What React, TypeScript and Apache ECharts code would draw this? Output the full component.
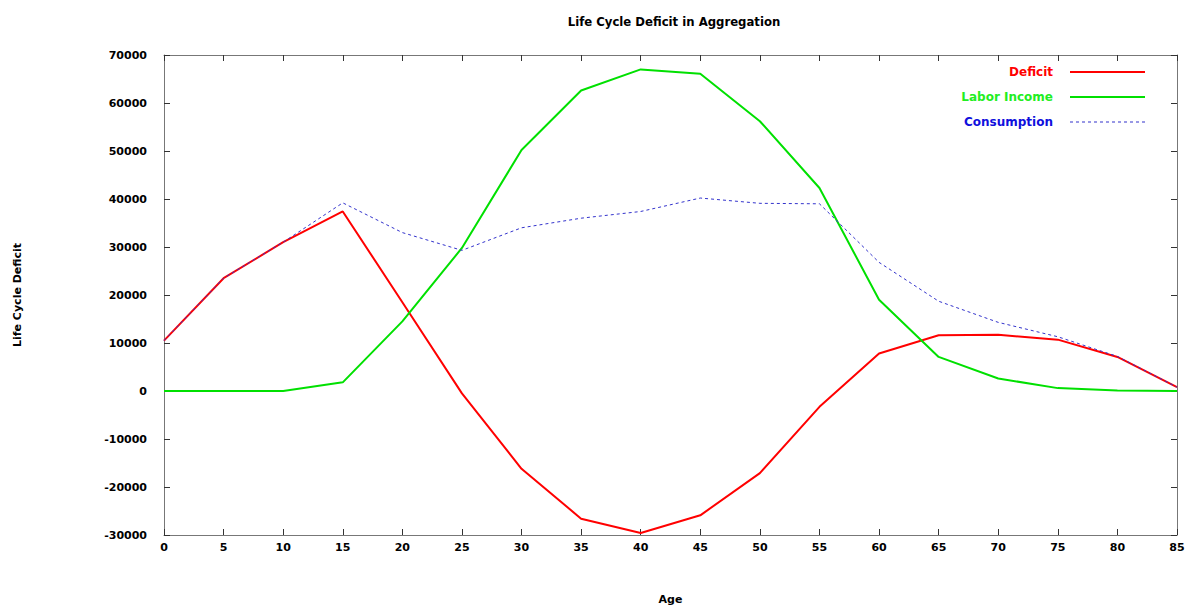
import React, { useEffect, useRef } from "react";
import * as echarts from "echarts";

const ages = [0, 5, 10, 15, 20, 25, 30, 35, 40, 45, 50, 55, 60, 65, 70, 75, 80, 85];
const deficit = [10500, 23500, 31000, 37400, 18500, -500, -16200, -26600, -29600, -25900, -17100, -3300, 7800, 11600, 11700, 10700, 7100, 800];
const laborIncome = [0, 0, 0, 1800, 14500, 29800, 50200, 62600, 67000, 66100, 56200, 42300, 19000, 7100, 2600, 600, 100, 0];
const consumption = [10500, 23500, 31000, 39200, 33000, 29300, 34000, 36000, 37400, 40200, 39100, 39000, 26800, 18700, 14300, 11300, 7200, 800];

const seriesNames = ["Deficit", "Labor Income", "Consumption"];
const lineColors = ["#ff0000", "#00e000", "#3333cc"];
const textColors = ["#ff0000", "#22ee22", "#1010dd"];

const FONT = "DejaVu Sans";

function dashIcon(width: number, dash: number, gap: number) {
  let d = "path://";
  for (let x = 0; x < width; x += dash + gap) {
    const w = Math.min(dash, width - x);
    d += `M${x},0h${w}v1h-${w}z`;
  }
  return d;
}

export default function App() {
  const ref = useRef<HTMLDivElement>(null);
  useEffect(() => {
    if (!ref.current) return;
    const chart = echarts.init(ref.current, undefined, { renderer: "svg" });
    const pairs = (vals: number[]) => ages.map((a, i) => [a, vals[i]]);
    const axisLine = { show: true, onZero: false, lineStyle: { color: "#777", width: 1 } };
    const tickStyle = { show: true, inside: true, length: 6, lineStyle: { color: "#333", width: 1 } };
    const labelStyle = { fontFamily: FONT, fontWeight: "bold" as const, fontSize: 11, color: "#000" };
    const legendTops = [66, 91, 116];
    const icons = ["rect", "rect", dashIcon(75, 3, 3)];
    const iconHeights = [2, 2, 1];
    chart.setOption({
      animation: false,
      backgroundColor: "#ffffff",
      title: {
        text: "Life Cycle Deficit in Aggregation",
        left: 669,
        top: 11,
        textAlign: "center",
        textStyle: { fontFamily: FONT, fontWeight: "bold", fontSize: 11.7, color: "#000" },
      },
      legend: seriesNames.map((n, i) => ({
        data: [{ name: n, icon: icons[i], textStyle: { color: textColors[i] } }],
        right: 49,
        top: legendTops[i],
        orient: "vertical",
        align: "right",
        itemWidth: 75,
        itemHeight: iconHeights[i],
        padding: 0,
        textStyle: { fontFamily: FONT, fontWeight: "bold", fontSize: 12, padding: [0, 12, 0, 0] },
      })),
      grid: { left: 164, right: 17, top: 55, bottom: 76, containLabel: false },
      xAxis: [
        {
          type: "value",
          min: 0,
          max: 85,
          interval: 5,
          name: "Age",
          nameLocation: "middle",
          nameGap: 59,
          nameTextStyle: { ...labelStyle },
          axisLine,
          axisTick: tickStyle,
          axisLabel: { ...labelStyle, margin: 7, formatter: (v: number) => String(v) },
          splitLine: { show: false },
        },
        {
          type: "value",
          position: "top",
          min: 0,
          max: 85,
          interval: 5,
          axisLine,
          axisTick: tickStyle,
          axisLabel: { show: false },
          splitLine: { show: false },
        },
      ],
      yAxis: [
        {
          type: "value",
          min: -30000,
          max: 70000,
          interval: 10000,
          name: "Life Cycle Deficit",
          nameLocation: "middle",
          nameGap: 141,
          nameTextStyle: { ...labelStyle },
          axisLine,
          axisTick: tickStyle,
          axisLabel: { ...labelStyle, margin: 17, formatter: (v: number) => String(v) },
          splitLine: { show: false },
        },
        {
          type: "value",
          position: "right",
          min: -30000,
          max: 70000,
          interval: 10000,
          axisLine,
          axisTick: tickStyle,
          axisLabel: { show: false },
          splitLine: { show: false },
        },
      ],
      series: [
        {
          name: seriesNames[0],
          type: "line",
          data: pairs(deficit),
          symbol: "none",
          lineStyle: { color: lineColors[0], width: 2 },
          itemStyle: { color: lineColors[0] },
        },
        {
          name: seriesNames[1],
          type: "line",
          data: pairs(laborIncome),
          symbol: "none",
          lineStyle: { color: lineColors[1], width: 2 },
          itemStyle: { color: lineColors[1] },
        },
        {
          name: seriesNames[2],
          type: "line",
          data: pairs(consumption),
          symbol: "none",
          lineStyle: { color: lineColors[2], width: 1, type: [3, 3] },
          itemStyle: { color: lineColors[2] },
        },
      ],
    });
    return () => chart.dispose();
  }, []);
  return (
    <div
      ref={ref}
      style={{ position: "fixed", left: 0, top: 0, width: 1194, height: 611, background: "#fff" }}
    />
  );
}
